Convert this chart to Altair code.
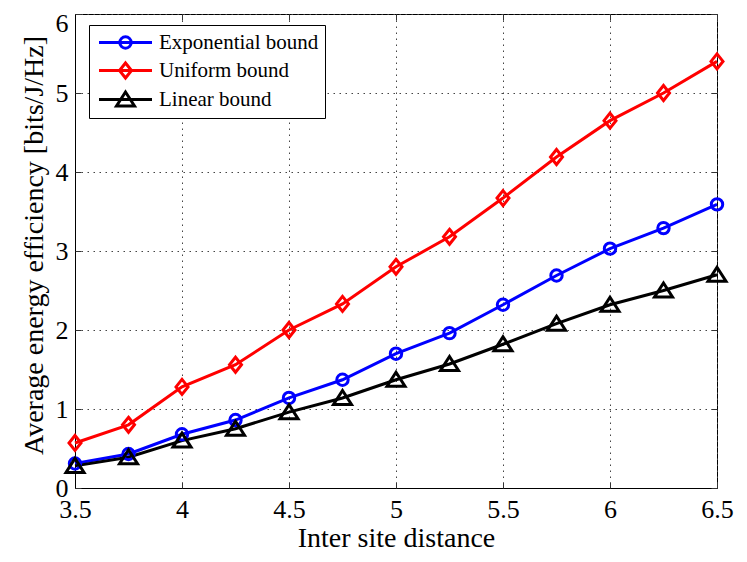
import altair as alt
import pandas as pd

# ---- data ----
x_vals = [3.5, 3.75, 4.0, 4.25, 4.5, 4.75, 5.0, 5.25, 5.5, 5.75, 6.0, 6.25, 6.5]
exp_vals = [0.31, 0.43, 0.68, 0.86, 1.14, 1.37, 1.70, 1.96, 2.32, 2.69, 3.03, 3.29, 3.59]
uni_vals = [0.57, 0.80, 1.28, 1.56, 2.00, 2.33, 2.80, 3.18, 3.67, 4.19, 4.65, 5.00, 5.40]
lin_vals = [0.28, 0.39, 0.60, 0.75, 0.96, 1.14, 1.37, 1.57, 1.82, 2.08, 2.32, 2.50, 2.70]

series_names = ["Exponential bound", "Uniform bound", "Linear bound"]
series_colors = ["#0000ff", "#ff0000", "#000000"]
x_ticks = [3.5, 4, 4.5, 5, 5.5, 6, 6.5]
y_ticks = [0, 1, 2, 3, 4, 5, 6]

rows = []
for name, vals in zip(series_names, [exp_vals, uni_vals, lin_vals]):
    for xv, yv in zip(x_vals, vals):
        rows.append({"distance": xv, "efficiency": yv, "series": name})
df = pd.DataFrame(rows)

# marker shapes (open circle, diamond, triangle)
marker_paths = [
    "M-0.57,0A0.57,0.57 0 1,0 0.57,0A0.57,0.57 0 1,0 -0.57,0Z",
    "M0,-0.75L0.6,0L0,0.75L-0.6,0Z",
    "M0,-0.75L0.9,0.65L-0.9,0.65Z",
]
# legend symbols: a line segment with the marker on it
legend_paths = ["M-2.65,0L2.65,0" + p for p in marker_paths]

FONT = "Liberation Serif"

legend = alt.Legend(
    orient="none", legendX=14, legendY=11,
    strokeColor="black", fillColor="white", padding=6, cornerRadius=0,
    labelFont=FONT, labelFontSize=21, labelColor="black",
    symbolSize=400, symbolOffset=19, labelOffset=22,
    symbolStrokeWidth=3, rowPadding=2, symbolOpacity=1,
)

x_scale = alt.Scale(domain=[3.5, 6.5], nice=False, zero=False)
y_scale = alt.Scale(domain=[0, 6], nice=False)

# main axes: labels, titles, dotted grid
x_main = alt.X("distance:Q", title="Inter site distance", scale=x_scale,
               axis=alt.Axis(values=x_ticks, format="~g", labelFlush=False,
                             labelFont=FONT, labelFontSize=26, labelColor="black",
                             titleFont=FONT, titleFontSize=28, titleFontWeight="normal",
                             titleBaseline="alphabetic", titleY=58, labelPadding=8))
y_main = alt.Y("efficiency:Q", title="Average energy efficiency [bits/J/Hz]", scale=y_scale,
               axis=alt.Axis(values=y_ticks, format="d", labelFlush=False,
                             labelFont=FONT, labelFontSize=26, labelColor="black",
                             labelOffset={"condition": {"test": "datum.value === 6", "value": 9},
                                          "value": 0},
                             titleFont=FONT, titleFontSize=28, titleFontWeight="normal",
                             titleX=-27, titleY=231, labelPadding=7))


def tick_axis(orient, values):
    # inward-pointing ticks drawn just inside the frame
    return alt.Axis(orient=orient, values=values, offset=-6, ticks=True, tickSize=6,
                    tickColor="#333333", tickWidth=1, labels=False, domain=False,
                    grid=False, title=None)


x_top = alt.X("distance:Q", scale=x_scale, axis=tick_axis("top", x_ticks))
y_right = alt.Y("efficiency:Q", scale=y_scale, axis=tick_axis("right", y_ticks))
x_bot = alt.X("distance:Q", scale=x_scale, axis=tick_axis("bottom", x_ticks))
y_left = alt.Y("efficiency:Q", scale=y_scale, axis=tick_axis("left", y_ticks))

color_scale = alt.Scale(domain=series_names, range=series_colors)

lines = alt.Chart(df).mark_line(strokeWidth=3).encode(
    x=x_main, y=y_main,
    color=alt.Color("series:N", scale=color_scale, legend=None))
points = alt.Chart(df).mark_point(filled=False, strokeWidth=3, size=400, opacity=1).encode(
    x=x_top, y=y_right,
    color=alt.Color("series:N", scale=color_scale, legend=None),
    shape=alt.Shape("series:N", scale=alt.Scale(domain=series_names, range=marker_paths),
                    legend=None))
# legend-only layer (no rows pass the filter; entries come from the scale domain)
legend_layer = alt.Chart(df).transform_filter("false").mark_point(
    filled=False, strokeWidth=3, opacity=1).encode(
    x=x_bot, y=y_left,
    color=alt.Color("series:N", scale=color_scale, legend=legend, title=None),
    shape=alt.Shape("series:N", scale=alt.Scale(domain=series_names, range=legend_paths),
                    legend=legend, title=None))

chart = alt.layer(lines, points, legend_layer).resolve_scale(
    color="independent", shape="independent"
).resolve_axis(
    x="independent", y="independent"
).properties(
    width=642, height=474,
    autosize=alt.AutoSizeParams(type="none"),
    padding={"left": 67, "top": 6, "right": 22, "bottom": 66},
    background="white",
).configure(
    font=FONT
).configure_view(
    stroke="black", strokeWidth=1
).configure_axis(
    grid=True, gridColor="#444444", gridDash=[1.5, 4.5], gridWidth=1, gridOpacity=1,
    domain=True, domainColor="black", domainWidth=1,
    ticks=False,
    labelFont=FONT, labelFontSize=26, labelColor="black",
    titleFont=FONT, titleFontSize=28, titleFontWeight="normal", titleColor="black",
)

chart.save("out.html", embed_options={"renderer": "svg", "actions": False})
